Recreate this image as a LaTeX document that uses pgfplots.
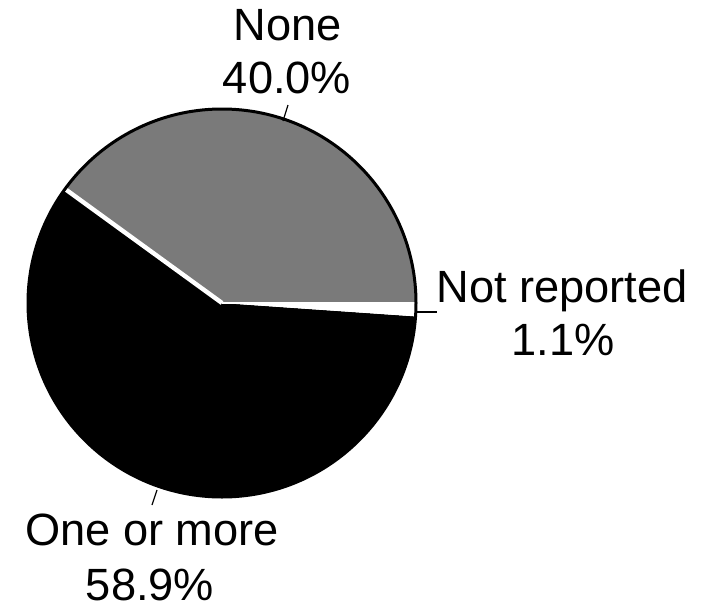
\documentclass[border=0pt]{standalone}
\usepackage{fontspec}
\setmainfont{Liberation Sans}
\usepackage{pgfplots}
\usepackage{pgfplotstable}
\pgfplotsset{compat=1.18}
\pgfplotstableread{
label value
None 40.0
NotReported 1.1
OneOrMore 58.9
}\piedata
\begin{document}
\begin{tikzpicture}
\pgfplotstablegetelem{0}{value}\of\piedata \let\vA\pgfplotsretval
\pgfplotstablegetelem{1}{value}\of\piedata \let\vB\pgfplotsretval
\pgfplotstablegetelem{2}{value}\of\piedata \let\vC\pgfplotsretval
\pgfmathsetmacro\aA{3.6*\vA}
\pgfmathsetmacro\aC{3.6*\vA+3.6*\vC}
\def\R{97pt}
\begin{axis}[width=356pt,height=303.5pt,scale only axis,
  xmin=0,xmax=712,ymin=0,ymax=607,axis lines=none,clip=false,
  /pgf/number format/assume math mode=true]
\path (axis cs:0,0) rectangle (axis cs:712,607);
% None
\fill[black!52] (axis cs:222,304) -- ++(0:\R) arc[start angle=0,end angle=\aA,radius=\R] -- cycle;
% One or more
\fill[black] (axis cs:222,304) -- ++(\aA:\R) arc[start angle=\aA,end angle=\aC,radius=\R] -- cycle;
% Not reported
\fill[white] (axis cs:222,304) -- ++(\aC:\R) arc[start angle=\aC,end angle=360,radius=\R] -- cycle;
\draw[white,line width=2.2pt] (axis cs:222,304) -- ++(\aA:\R);
\draw[white,line width=1pt] (axis cs:222,304) -- ++(0:\R);
\draw[black,line width=1.5pt] (axis cs:222,304) circle[radius=\R];
% leader lines
\draw[line width=0.6pt] (axis cs:288,502) -- (axis cs:283,486);
\draw[line width=0.6pt] (axis cs:417,295) -- (axis cs:437,295);
\draw[line width=0.6pt] (axis cs:157,117) -- (axis cs:152,102);
% labels
\tikzset{lab/.style={anchor=base,inner sep=0pt,font=\fontsize{22.6}{27}\selectfont}}
\node[lab] at (axis cs:288,567) {None};
\node[lab] at (axis cs:287,514) {\pgfmathprintnumber[fixed,fixed zerofill,precision=1,assume math mode=true]{\vA}\%};
\node[lab] at (axis cs:562,305) {Not reported};
\node[lab] at (axis cs:563,252) {\pgfmathprintnumber[fixed,fixed zerofill,precision=1,assume math mode=true]{\vB}\%};
\node[lab] at (axis cs:152,62) {One or more};
\node[lab] at (axis cs:150,7) {\pgfmathprintnumber[fixed,fixed zerofill,precision=1,assume math mode=true]{\vC}\%};
\end{axis}
\end{tikzpicture}
\end{document}
